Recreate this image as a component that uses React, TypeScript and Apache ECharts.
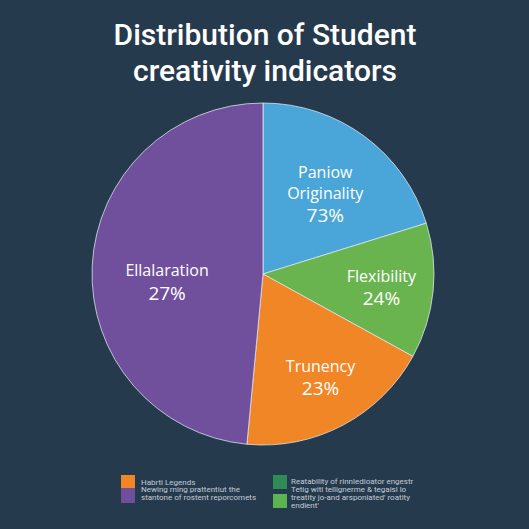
import React, { useEffect, useRef } from "react";
import * as echarts from "echarts";

const titleText = "Distribution of Student\ncreativity indicators";
const sliceNames = ["Paniow\nOriginality", "Flexibility", "Trunency", "Ellalaration"];
const sliceValues = [20.2, 12.8, 18.5, 48.5];
const sliceLabels = ["73%", "24%", "23%", "27%"];
const sliceColors = ["#4aa6d8", "#6ab450", "#f08626", "#70509c"];
const labelRadius = [102, 116, 120, 93];
const labelDy = [5, 2, -5, 13];

const legendLeftLines = ["Habrti Legends", "Newing rning prattentiut the", "stantone of rostent reporcomets"];
const legendRightLines = [
  "Reatability of rinnledioator engestr",
  "Tetig witl tellignerme & tegaisl lo",
  "treatity jo-and arsponiated' roatity",
  "endient'",
];
const legendLeftColors = ["#f08626", "#70509c"];
const legendRightColors = ["#2f8c55", "#5cb450"];

const BG = "#263a4e";
const CX = 263;
const CY = 274;
const R = 171;

export default function App() {
  const ref = useRef<HTMLDivElement>(null);
  useEffect(() => {
    if (!ref.current) return;
    const chart = echarts.init(ref.current, undefined, { renderer: "svg" });
    const total = sliceValues.reduce((a, b) => a + b, 0);
    let acc = 0;
    const data = sliceValues.map((v, i) => {
      const mid = ((acc + v / 2) / total) * Math.PI * 2;
      acc += v;
      const extra = labelRadius[i] - R / 2;
      return {
        name: sliceNames[i],
        value: v,
        itemStyle: { color: sliceColors[i] },
        label: {
          offset: [extra * Math.sin(mid), -extra * Math.cos(mid) + labelDy[i]],
          formatter: () => `{n|${sliceNames[i].split("\n").join("}\n{n|")}}\n{p|${sliceLabels[i]}}`,
        },
      };
    });

    const textStyleLegend = {
      fill: "#c3ccd6",
      font: '8px Roboto, sans-serif',
      textVerticalAlign: "middle" as const,
    };
    const leftY = [482, 489.5, 497];
    const rightY = [481, 489, 497.5, 505];

    chart.setOption({
      animation: false,
      backgroundColor: BG,
      title: {
        text: titleText,
        left: 260,
        textAlign: "center",
        top: 12,
        textStyle: {
          color: "#ffffff",
          fontSize: 30,
          fontWeight: 500,
          fontFamily: 'Roboto, sans-serif',
          lineHeight: 35.5,
        },
      },
      series: [
        {
          type: "pie",
          center: [CX, CY],
          radius: [0, R],
          startAngle: 90,
          clockwise: true,
          silent: true,
          itemStyle: { borderColor: "rgba(225,235,242,0.75)", borderWidth: 1 },
          label: {
            show: true,
            position: "inside",
            color: "#ffffff",
            fontFamily: '"Open Sans", sans-serif',
            rich: {
              n: { fontSize: 16, fontWeight: 500, lineHeight: 21, color: "#fff", fontFamily: '"Open Sans", sans-serif' },
              p: { fontSize: 19, lineHeight: 24, color: "#fff", fontFamily: '"Open Sans", sans-serif' },
            },
          },
          labelLine: { show: false },
          data,
        },
      ],
      graphic: [
        { type: "rect", shape: { x: 121, y: 475, width: 14, height: 13 }, style: { fill: legendLeftColors[0] } },
        { type: "rect", shape: { x: 121, y: 488, width: 14, height: 15 }, style: { fill: legendLeftColors[1] } },
        ...legendLeftLines.map((t, i) => ({
          type: "text",
          x: 141,
          y: leftY[i],
          style: { text: t, ...textStyleLegend },
        })),
        { type: "rect", shape: { x: 273, y: 475, width: 14, height: 14 }, style: { fill: legendRightColors[0] } },
        { type: "rect", shape: { x: 273, y: 494, width: 14, height: 14 }, style: { fill: legendRightColors[1] } },
        ...legendRightLines.map((t, i) => ({
          type: "text",
          x: 291,
          y: rightY[i],
          style: { text: t, ...textStyleLegend },
        })),
      ],
    });
    return () => chart.dispose();
  }, []);
  return <div ref={ref} style={{ position: "fixed", left: 0, top: 0, width: 529, height: 529 }} />;
}
